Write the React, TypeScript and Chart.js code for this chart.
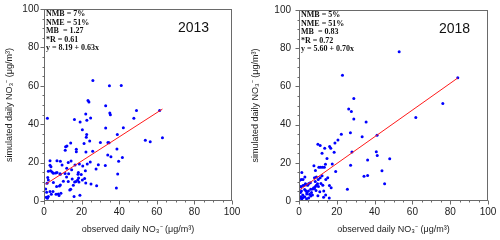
import React, { useEffect, useRef } from "react";
import { Chart, registerables } from "chart.js";
Chart.register(...registerables);

// ---- data ----
const obs2013 = [26.0, 34.8, 41.1, 32.8, 23.4, 23.9, 49.2, 61.5, 63.0, 22.2, 35.0, 35.3, 47.8, 1.8, 16.2, 19.2, 24.8, 22.8, 20.4, 22.7, 22.5, 24.3, 32.8, 39.0, 42.2, 30.0, 34.0, 34.6, 53.9, 56.5, 14.2, 11.5, 12.2, 11.3, 21.3, 17.2, 17.2, 22.3, 25.9, 38.8, 41.7, 33.9, 35.6, 24.6, 39.7, 28.9, 32.6, 27.7, 39.2, 38.5, 28.0, 19.1, 16.0, 22.0, 21.6, 22.2, 25.0, 20.4, 18.6, 18.8, 23.0, 3.2, 6.9, 3.2, 3.7, 3.5, 4.3, 5.0, 6.9, 8.7, 11.2, 2.0, 2.3, 1.6, 0.9, 1.4, 2.3, 1.8, 3.2, 3.9, 4.8, 6.4, 7.6, 8.2, 8.7, 6.7, 5.0, 10.3, 12.9, 13.7, 14.2, 15.6, 16.3, 17.0, 17.9, 18.1, 18.3, 18.4, 14.7, 12.1, 9.6, 8.7, 12.9, 14.4, 16.5, 20.6, 6.2, 2.3, 8.5, 13.1, 1.2, 9.0, 8.0, 12.0, 15.0, 19.8];
const sim2013 = [62.8, 60.0, 60.2, 49.6, 52.3, 51.6, 47.1, 47.2, 33.0, 45.3, 45.8, 44.9, 43.1, 43.1, 42.5, 41.1, 43.2, 42.0, 37.1, 34.7, 33.2, 31.2, 38.0, 34.7, 38.2, 30.5, 30.5, 30.4, 31.6, 30.9, 30.2, 28.3, 28.6, 26.4, 30.0, 26.9, 25.7, 25.5, 25.9, 27.1, 22.6, 24.0, 23.1, 20.3, 20.7, 18.9, 18.5, 16.7, 14.1, 6.8, 8.0, 3.0, 2.3, 15.8, 11.7, 9.4, 8.9, 11.0, 9.9, 19.3, 19.3, 20.9, 21.0, 18.6, 17.9, 15.8, 15.1, 14.4, 14.8, 13.9, 14.3, 12.3, 11.0, 9.2, 6.3, 4.5, 2.3, 1.4, 4.9, 3.5, 4.9, 3.5, 3.7, 7.8, 8.3, 7.5, 9.7, 10.3, 10.1, 5.7, 6.1, 8.2, 9.9, 10.1, 11.0, 13.9, 14.8, 12.0, 16.3, 17.0, 18.8, 20.7, 20.0, 20.8, 18.7, 18.2, 14.6, 15.5, 14.2, 14.2, 2.0, 4.0, 2.8, 12.5, 11.5, 13.8];

const obs2018 = [53.0, 84.0, 23.0, 29.0, 26.3, 27.7, 29.0, 35.5, 61.8, 76.1, 27.2, 22.4, 33.4, 41.3, 20.6, 19.0, 10.0, 11.2, 16.2, 16.8, 13.6, 28.0, 18.6, 12.2, 40.9, 41.4, 48.0, 36.3, 14.8, 7.9, 17.6, 14.0, 27.3, 10.5, 11.4, 12.4, 13.4, 8.7, 19.4, 43.9, 1.5, 36.3, 34.4, 45.3, 25.6, 13.0, 16.0, 0.5, 1.0, 1.5, 2.2, 0.8, 1.3, 0.5, 0.4, 1.2, 2.8, 3.4, 4.0, 4.6, 5.2, 3.0, 3.6, 4.2, 5.0, 5.6, 6.2, 6.6, 7.2, 7.8, 8.2, 8.7, 9.2, 9.8, 10.3, 8.2, 9.2, 10.2, 11.2, 12.2, 8.6, 6.2, 5.1, 10.0, 3.0, 2.0, 4.1, 7.1, 11.6, 12.6, 14.2, 15.2, 16.1, 17.0, 13.1, 14.1, 1.1, 2.1, 3.1, 2.1, 4.0, 6.0, 9.0, 11.0];
const sim2018 = [78.1, 64.5, 65.9, 53.7, 48.2, 46.8, 42.9, 41.4, 43.7, 51.0, 35.7, 35.0, 33.7, 34.4, 31.9, 30.4, 29.7, 29.1, 28.5, 27.6, 27.6, 25.6, 25.5, 25.0, 25.8, 23.8, 22.1, 21.5, 22.2, 18.4, 19.4, 19.3, 18.7, 17.7, 17.7, 17.7, 17.7, 16.0, 15.5, 15.9, 14.9, 13.4, 12.9, 9.0, 6.2, 1.9, 1.6, 1.5, 2.2, 1.0, 1.8, 4.5, 5.2, 7.5, 10.8, 11.3, 8.3, 9.0, 8.5, 8.2, 9.1, 6.0, 5.4, 4.4, 5.2, 3.5, 6.2, 4.5, 6.3, 7.0, 6.5, 7.6, 8.2, 9.0, 7.6, 12.2, 12.6, 11.2, 12.2, 13.2, 10.2, 2.6, 1.6, 2.8, 2.2, 3.2, 3.6, 3.1, 9.2, 8.2, 11.2, 12.2, 8.1, 7.0, 5.2, 3.2, 7.6, 11.2, 12.6, 8.1, 1.2, 9.5, 5.5, 4.8];

const stats2013 = ["NMB = 7%", "NME = 51%", "MB  = 1.27", "*R = 0.61", "y = 8.19 + 0.63x"];
const stats2018 = ["NMB = 5%", "NME = 51%", "MB  = 0.83", "*R = 0.72", "y = 5.60 + 0.70x"];
const fit2013 = [8.19, 0.63];
const fit2018 = [5.6, 0.7];
const axisMin = 0;
const axisMax = 100;
const majorStep = 20;
const minorStep = 5;
const xTitle = "observed daily NO\u2083\u207B (\u03BCg/m\u00B3)";
const yTitle = "simulated daily NO\u2083\u207B (\u03BCg/m\u00B3)";

const FRAME = "#6a6a6a";
const TEXT = "#222";
const SANS = "'Liberation Sans', Arial, sans-serif";
const SERIF = "'Liberation Serif', 'Times New Roman', serif";

type P = {
  xs: number[];
  ys: number[];
  fit: number[];
  stats: string[];
  year: string;
  yWidth: number;
  rightPad: number;
  yTickPad: number;
  yTitlePad: number;
  yearFromRight: number;
};

function Scatter(p: P) {
  const ref = useRef<HTMLCanvasElement | null>(null);
  useEffect(() => {
    if (!ref.current) return;
    const pts = p.xs.map((x, i) => ({ x, y: p.ys[i] }));
    const xmin = Math.min(...p.xs);
    const xmax = Math.max(...p.xs);
    const line = [
      { x: xmin, y: p.fit[0] + p.fit[1] * xmin },
      { x: xmax, y: p.fit[0] + p.fit[1] * xmax },
    ];
    const decor = {
      id: "decor",
      afterDraw(chart: any) {
        const { ctx, chartArea: a, scales } = chart;
        ctx.save();
        ctx.strokeStyle = FRAME;
        ctx.lineWidth = 1;
        const L = Math.round(a.left) + 0.5;
        const T = Math.round(a.top) + 0.5;
        const R = Math.round(a.right) - 0.5;
        const B = Math.round(a.bottom) - 0.5;
        ctx.strokeRect(L, T, R - L, B - T);
        ctx.beginPath();
        for (let v = axisMin; v <= axisMax; v += minorStep) {
          const len = v % majorStep === 0 ? 4 : 2;
          const px = Math.round(scales.x.getPixelForValue(v)) + 0.5;
          ctx.moveTo(px, B);
          ctx.lineTo(px, B + len);
          const py = Math.round(scales.y.getPixelForValue(v)) + 0.5;
          ctx.moveTo(L, py);
          ctx.lineTo(L - len, py);
        }
        ctx.stroke();
        // statistics text
        ctx.fillStyle = "#111";
        ctx.font = "bold 8px " + SERIF;
        ctx.textBaseline = "middle";
        ctx.textAlign = "left";
        p.stats.forEach((s, i) => {
          ctx.fillText(s, a.left + 2, a.top + 5 + i * 8.6);
        });
        ctx.font = "14px " + SANS;
        ctx.fillStyle = "#111";
        ctx.textAlign = "center";
        ctx.fillText(p.year, a.right - p.yearFromRight, a.top + 19.5);
        ctx.restore();
      },
    };
    const chart = new Chart(ref.current, {
      type: "scatter",
      data: {
        datasets: [
          {
            data: line,
            showLine: true,
            borderColor: "#ff1a1a",
            borderWidth: 1,
            pointRadius: 0,
          },
          {
            data: pts,
            backgroundColor: "#0000ff",
            borderWidth: 0,
            pointRadius: 1.5,
            pointHoverRadius: 1.5,
          },
        ],
      },
      options: {
        animation: false,
        responsive: false,
        events: [],
        layout: { padding: { top: 9, right: p.rightPad, left: 0, bottom: 0 } },
        plugins: { legend: { display: false }, tooltip: { enabled: false } },
        scales: {
          x: {
            type: "linear",
            min: axisMin,
            max: axisMax,
            afterFit: (s: any) => {
              s.height = 39;
            },
            grid: { display: true, drawOnChartArea: false, drawTicks: true, tickLength: 4, tickColor: "rgba(0,0,0,0)" },
            border: { display: false },
            ticks: { stepSize: majorStep, autoSkip: false, maxRotation: 0, padding: 1, color: TEXT, font: { family: SANS, size: 10 } },
            title: { display: true, text: xTitle, color: TEXT, font: { family: SANS, size: 9 }, padding: { top: 0, bottom: 5 } },
          },
          y: {
            type: "linear",
            min: axisMin,
            max: axisMax,
            afterFit: (s: any) => {
              s.width = p.yWidth;
            },
            grid: { display: true, drawOnChartArea: false, drawTicks: true, tickLength: 4, tickColor: "rgba(0,0,0,0)" },
            border: { display: false },
            ticks: { stepSize: majorStep, autoSkip: false, padding: p.yTickPad, color: TEXT, font: { family: SANS, size: 10 } },
            title: { display: true, text: yTitle, color: TEXT, font: { family: SANS, size: 9 }, padding: { top: p.yTitlePad, bottom: 0 } },
          },
        },
      },
      plugins: [decor],
    } as any);
    return () => chart.destroy();
  }, []);
  return <canvas ref={ref} width={250} height={240} style={{ display: "block", width: 250, height: 240 }} />;
}

export default function App() {
  return (
    <div style={{ position: "fixed", left: 0, top: 0, width: 500, height: 240, background: "#fff", display: "flex" }}>
      <Scatter xs={obs2013} ys={sim2013} fit={fit2013} stats={stats2013} year="2013" yWidth={44} rightPad={18} yTickPad={1} yTitlePad={4} yearFromRight={38.5} />
      <Scatter xs={obs2018} ys={sim2018} fit={fit2018} stats={stats2018} year="2018" yWidth={49} rightPad={12} yTickPad={4} yTitlePad={0} yearFromRight={33.5} />
    </div>
  );
}
